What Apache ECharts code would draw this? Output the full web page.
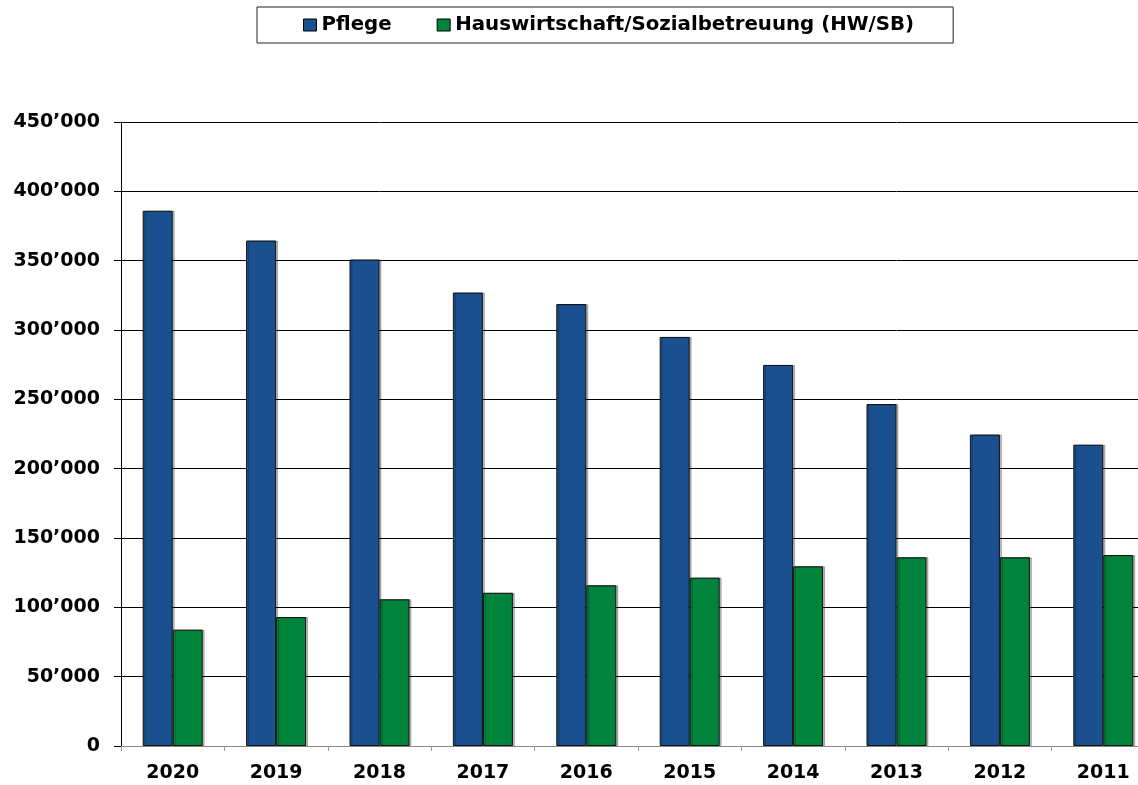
<!DOCTYPE html>
<html>
<head>
<meta charset="utf-8">
<script src="https://cdn.jsdelivr.net/npm/echarts@6/dist/echarts.min.js"></script>
<style>
  html, body { margin: 0; padding: 0; background: #fff; overflow: hidden; }
  /* wider than the window: the last category is cut at the right edge like the original */
  #chart { width: 1155px; height: 785px; }
</style>
</head>
<body>
<div id="chart"></div>
<script>
const years = ["2020", "2019", "2018", "2017", "2016", "2015", "2014", "2013", "2012", "2011"];
const pflege = [386000, 364500, 350800, 327000, 318700, 295000, 274800, 246600, 224600, 217300];
const hwsb = [83900, 93000, 105800, 110500, 115900, 121400, 129600, 136100, 136100, 137700];
const seriesNames = ["Pflege", "Hauswirtschaft/Sozialbetreuung (HW/SB)"];

const font = "DejaVu Sans, Liberation Sans, Arial, sans-serif";

const chart = echarts.init(document.getElementById("chart"));

chart.setOption({
  animation: false,
  legend: {
    data: seriesNames,
    icon: "rect",
    top: 7,
    left: 257,
    padding: [8, 39, 8, 46],
    itemGap: 45,
    itemWidth: 13,
    itemHeight: 12,
    borderColor: "#222",
    borderWidth: 1,
    borderRadius: 0,
    textStyle: { fontFamily: font, fontWeight: "bold", fontSize: 19.8, color: "#000" },
    itemStyle: { borderColor: "#000", borderWidth: 1 },
  },
  grid: {
    left: 121,
    right: 0,
    top: 122,
    bottom: 39,
    containLabel: false,
  },
  xAxis: {
    type: "category",
    data: years,
    axisLine: { lineStyle: { color: "#888", width: 1 } },
    axisTick: { show: true, length: 5, lineStyle: { color: "#999" } },
    axisLabel: { fontFamily: font, fontWeight: "bold", fontSize: 19, color: "#000", margin: 18 },
  },
  yAxis: {
    type: "value",
    min: 0,
    max: 450000,
    interval: 50000,
    axisLine: { show: true, lineStyle: { color: "#000", width: 1 } },
    axisTick: { show: true, length: 7, lineStyle: { color: "#000" } },
    splitLine: { lineStyle: { color: "#000", width: 1 } },
    axisLabel: {
      fontFamily: font,
      fontWeight: "bold",
      fontSize: 19,
      color: "#000",
      margin: 21,
      formatter: function (v) {
        if (v === 0) return "0";
        return Math.round(v / 1000) + "\u2019000";
      },
    },
  },
  series: [
    {
      name: seriesNames[0],
      type: "bar",
      data: pflege,
      barWidth: 30,
      barGap: "0%",
      itemStyle: {
        color: "#1a508f",
        borderColor: "#111",
        borderWidth: 1,
        shadowColor: "rgba(0,0,0,0.25)",
        shadowOffsetX: 2,
      },
    },
    {
      name: seriesNames[1],
      type: "bar",
      data: hwsb,
      barWidth: 30,
      itemStyle: {
        color: "#00843c",
        borderColor: "#111",
        borderWidth: 1,
        shadowColor: "rgba(0,0,0,0.25)",
        shadowOffsetX: 2,
      },
    },
  ],
});
</script>
</body>
</html>
